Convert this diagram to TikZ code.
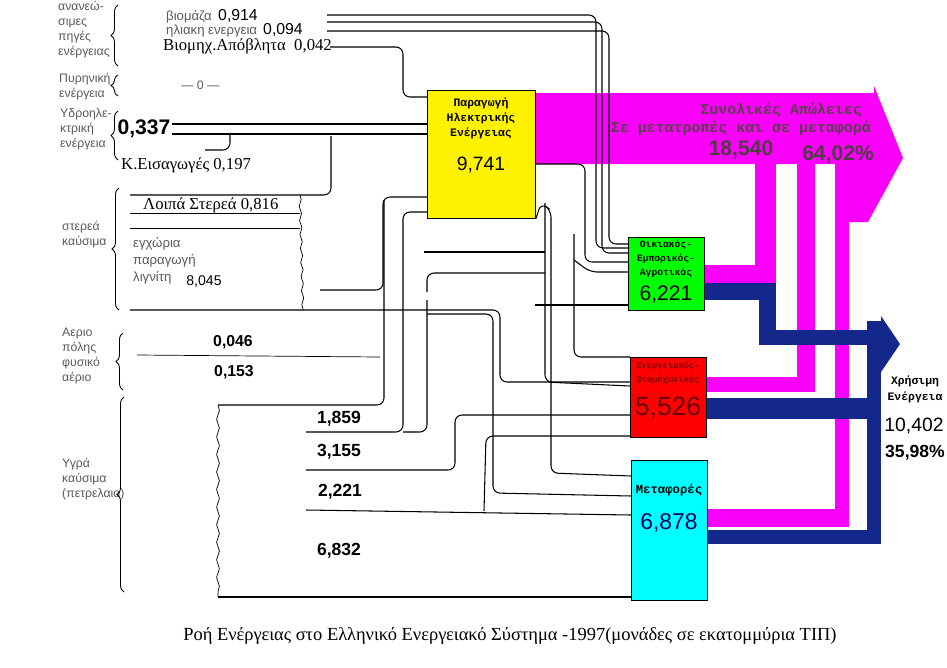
\documentclass[tikz,border=0pt]{standalone}
\usepackage{fontspec}
\setmainfont{Liberation Serif}
\setsansfont{Liberation Sans}
\setmonofont{Liberation Mono}
\usetikzlibrary{calc,decorations.pathreplacing,decorations.pathmorphing}

\definecolor{lossmag}{RGB}{250,0,250}
\definecolor{usenavy}{RGB}{20,40,140}
\definecolor{lblgray}{RGB}{90,90,90}
\definecolor{transcyan}{RGB}{0,255,255}

\tikzset{
  flow/.style = {draw, line width=0.6pt, rounded corners=4pt},
  grp/.style = {draw, line width=0.5pt, decorate, decoration={brace, amplitude=4pt}},
  cat/.style = {font=\sffamily\fontsize{7}{8.5}\selectfont, text=lblgray, align=left, anchor=west},
  val/.style = {font=\sffamily\bfseries\fontsize{10}{12}\selectfont},
  sector/.style = {draw=black, line width=0.5pt, anchor=north west, inner sep=0pt},
  boxtitle/.style = {font=\ttfamily\bfseries\fontsize{6.5}{8.5}\selectfont, align=center},
  boxnum/.style = {font=\sffamily\fontsize{11}{13}\selectfont}
}

\begin{document}
\begin{tikzpicture}[x=0.02cm, y=-0.02cm]

\useasboundingbox (0,0) rectangle (947,667);

% losses band
\fill[lossmag] (535,93) -- (874,93) -- (874,86) -- (903,158) -- (868,222)
  -- (835,222) -- (835,164) -- (535,164) -- cycle;
\fill[lossmag] (704,265) rectangle (776,283);
\fill[lossmag] (755,164) rectangle (776,283);
\fill[lossmag] (706,377) rectangle (815,392);
\fill[lossmag] (797,164) rectangle (815,392);
\fill[lossmag] (707,509) rectangle (849,527);
\fill[lossmag] (835,164) rectangle (849,527);

% useful energy
\fill[usenavy] (704,283) rectangle (776,300);
\fill[usenavy] (759,283) rectangle (776,345);
\fill[usenavy] (759,330) rectangle (881,345);
\fill[usenavy] (706,398) rectangle (881,419);
\fill[usenavy] (707,530) rectangle (881,544);
\fill[usenavy] (867,321) rectangle (881,544);
\fill[usenavy] (881,316) -- (900,344) -- (881,372) -- cycle;

% sector boxes
\node[sector, fill=yellow, minimum width=2.16cm, minimum height=2.56cm] (prod) at (427,90) {};
\node[sector, fill=green, minimum width=1.52cm, minimum height=1.46cm] (home) at (628,237) {};
\node[sector, fill=red, minimum width=1.52cm, minimum height=1.6cm] (ind) at (630,357) {};
\node[sector, fill=transcyan, minimum width=1.52cm, minimum height=2.8cm] (trans) at (631,460) {};

\node[boxtitle] (prodt) at (481,118) {Παραγωγή\\Ηλεκτρικής\\Ενέργειας};
\node[boxnum] (prodn) at (481,165) {9,741};
\node[boxtitle, font=\ttfamily\bfseries\fontsize{5.5}{8}\selectfont] (homet) at (666,259) {Οικιακός-\\Εμπορικός-\\Αγροτικός};
\node[boxnum, font=\sffamily\fontsize{12}{14}\selectfont] (homen) at (666,294) {6,221};
\node[boxtitle, text=red!50!black, font=\ttfamily\bfseries\fontsize{5}{8}\selectfont] (indt) at (668,373) {Ενεργειακός-\\Βιομηχανικός};
\node[boxnum, text=red!40!black, font=\sffamily\fontsize{15}{17}\selectfont] (indn) at (668,408) {5,526};
\node[boxtitle, font=\ttfamily\bfseries\fontsize{7}{9}\selectfont] (transt) at (669,490) {Μεταφορές};
\node[boxnum, text=blue!40!black, font=\sffamily\fontsize{13}{15}\selectfont] (transn) at (669,523) {6,878};

% losses text
\node[font=\ttfamily\bfseries\fontsize{8.5}{10}\selectfont, text=magenta!25!black, anchor=east] (losst) at (868,110) {Συνολικές Απώλειες};
\node[font=\ttfamily\bfseries\fontsize{8.5}{10}\selectfont, text=magenta!25!black, anchor=east] (losst2) at (877,128) {Σε μετατροπές και σε μεταφορά};
\node[font=\sffamily\bfseries\fontsize{12}{14}\selectfont, text=magenta!20!black] (lossn) at (741,150) {18,540};
\node[font=\sffamily\bfseries\fontsize{12}{14}\selectfont, text=magenta!20!black] (lossp) at (838,155) {64,02\%};

% useful text
\node[font=\ttfamily\bfseries\fontsize{6.5}{9}\selectfont, align=center] (uset) at (915,389) {Χρήσιμη\\Ενέργεια};
\node[font=\sffamily\fontsize{11}{13}\selectfont] (usen) at (914,426) {10,402};
\node[val] (usep) at (915,453) {35,98\%};

% categories and braces
\node[cat] (c1) at (52,30) {ανανεώ-\\σιμες\\πηγές\\ενέργειας};
\draw[grp] (118,66) -- (118,5);
\node[cat] (c2) at (53,87) {Πυρηνική\\ενέργεια};
\draw[grp] (118,96) -- (118,75);
\node[cat] (c3) at (54,129) {Υδροηλε-\\κτρική\\ενέργεια};
\draw[grp] (118,160) -- (118,111);
\node[cat] (c4) at (56,235) {στερεά\\καύσιμα};
\draw[grp] (119,310) -- (119,188);
\node[cat] (c5) at (56,356) {Αεριο\\πόλης\\φυσικό\\αέριο};
\draw[grp] (123,390) -- (123,333);
\node[cat] (c6) at (56,479) {Υγρά\\καύσιμα\\(πετρελαιο)};
\draw[grp] (124,592) -- (124,397);

% source labels
\node[cat, font=\sffamily\fontsize{7.5}{9}\selectfont] (bio) at (160,17) {βιομάζα};
\node[font=\sffamily\fontsize{9}{11}\selectfont] (bion) at (238,16) {0,914};
\node[cat, font=\sffamily\fontsize{7.5}{9}\selectfont] (sol) at (160,31) {ηλιακη ενεργεια};
\node[font=\sffamily\fontsize{9}{11}\selectfont] (soln) at (283,30) {0,094};
\node[font=\fontsize{9.5}{11}\selectfont, anchor=west] (waste) at (157,46) {Βιομηχ.Απόβλητα\ \ 0,042};
\node[cat, font=\sffamily\fontsize{7}{9}\selectfont] (nuc) at (175,85) {--- 0 ---};
\node[font=\sffamily\bfseries\fontsize{12}{14}\selectfont] (hydn) at (144,129) {0,337};
\node[font=\fontsize{9.5}{11}\selectfont, anchor=west] (imp) at (115,165) {Κ.Εισαγωγές 0,197};
\node[font=\fontsize{9.5}{11}\selectfont, anchor=west] (other) at (137,205) {Λοιπά Στερεά 0,816};
\node[cat, font=\sffamily\fontsize{7.5}{9.5}\selectfont] (lig) at (127,261) {εγχώρια\\παραγωγή\\λιγνίτη};
\node[font=\sffamily\fontsize{8}{10}\selectfont] (lign) at (204,281) {8,045};
\node[val, font=\sffamily\bfseries\fontsize{9}{11}\selectfont] (gas1) at (233,342) {0,046};
\node[val, font=\sffamily\bfseries\fontsize{9}{11}\selectfont] (gas2) at (234,372) {0,153};
\node[val] (oil1) at (339,419) {1,859};
\node[val] (oil2) at (339,452) {3,155};
\node[val] (oil3) at (340,492) {2,221};
\node[val] (oil4) at (339,551) {6,832};

% renewables
\draw[flow] (327,15) -- (596,15) -- (596,248) -- (628,248);
\draw[flow] (327,22) -- (602,22) -- (602,253) -- (628,253);
\draw[flow] (327,31) -- (609,31) -- (609,244) -- (628,244);
\draw[flow] (330,47) -- (403,47) -- (403,97) -- (prod.west |- 0,97);
% hydro and imports
\draw[flow] (172,124) -- (prod.west |- 0,124);
\draw[flow] (172,134) -- (prod.west |- 0,134);
\draw[flow] (205,150) -- (230,150) -- (230,134);
% solid fuels
\draw[flow] (130,195) -- (331,195) -- (331,136);
\draw (130,213) -- (300,213);
\draw (130,228) -- (300,228);
\draw[decorate, decoration={snake, amplitude=0.6pt, segment length=8pt}] (300,195) -- (303,310);
\draw[flow] (130,310) -- (500,310) -- (500,382) -- (ind.west |- 0,382);
\draw[flow] (320,290) -- (383,290) -- (383,197) -- (prod.west |- 0,197);
\draw[flow] (424,252) -- (545,252);
\draw[flow] (427,292) -- (427,273) -- (545,273);
% gas
\draw (137,355) -- (380,357);
\draw[flow] (574,234) -- (574,357) -- (ind.west |- 0,357);
\draw[flow] (574,260) -- (590,272) -- (home.west |- 0,272);
% oil
\draw[decorate, decoration={snake, amplitude=0.8pt, segment length=10pt}] (218,405) -- (218,597);
\draw[flow] (218,405) -- (384,405) -- (384,200);
\draw[flow] (218,597) -- (trans.west |- 0,597);
\draw[flow] (306,432) -- (403,432) -- (403,212) -- (prod.west |- 0,212);
\draw[flow] (403,432) -- (427,432) -- (427,300);
\draw[flow] (306,470) -- (455,470) -- (455,415) -- (ind.west |- 0,415);
\draw[flow] (306,510) -- (trans.west |- 0,515);
\draw[flow] (484,511) -- (486,436) -- (ind.west |- 0,436);
\draw[flow] (427,314) -- (493,314) -- (493,493) -- (trans.west |- 0,496);
% electricity out
\draw[flow] (prod.east |- 0,164) -- (585,164) -- (585,262) -- (home.west |- 0,262);
\draw[flow] (prod.south east) -- (541,203) -- (551,210) -- (551,473) -- (trans.west |- 0,476);
\draw[flow] (545,203) -- (545,382) -- (ind.west |- 0,386);
\draw[flow] (535,305) -- (home.west |- 0,305);

% caption
\node[font=\fontsize{10.5}{12}\selectfont] (cap) at (510,636) {Ροή Ενέργειας στο Ελληνικό Ενεργειακό Σύστημα -1997(μονάδες σε εκατομμύρια ΤΙΠ)};

\end{tikzpicture}
\end{document}
